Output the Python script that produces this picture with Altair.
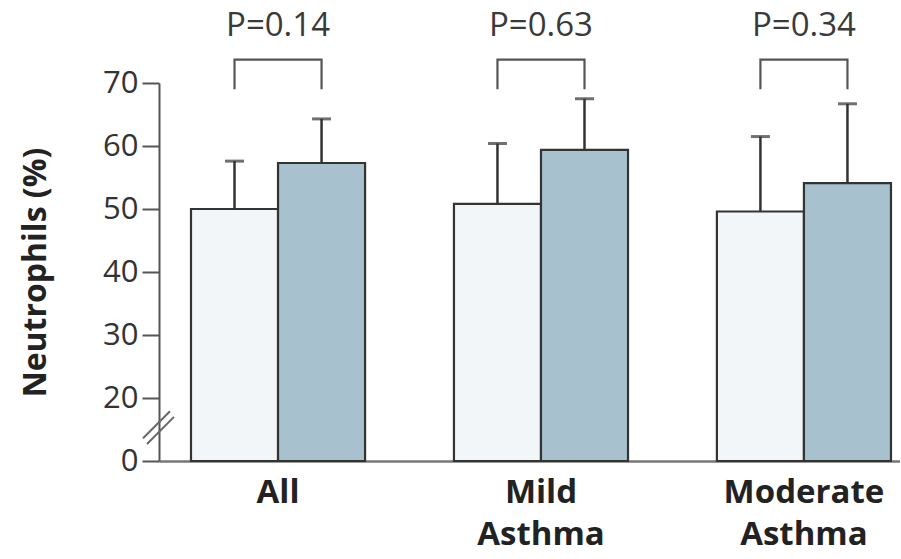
import altair as alt
import pandas as pd

# Group means and standard deviations of sputum neutrophils (%)
categories = ["All", "Mild Asthma", "Moderate Asthma"]
series = ["Group 1", "Group 2"]
mean_group1 = [50.0, 50.8, 49.6]
mean_group2 = [57.3, 59.4, 54.1]
sd_group1 = [7.6, 9.6, 11.9]
sd_group2 = [7.0, 8.1, 12.6]
p_labels = ["P=0.14", "P=0.63", "P=0.34"]
y_tick_values = [0, 20, 30, 40, 50, 60, 70]

# Levels (in data units) of the comparison brackets and P-value labels
BRACKET_TOP = 73.7
BRACKET_FOOT = 69.0
P_LABEL_LEVEL = 79.0

# The y axis is broken between 0 and 20: 0-20 is squeezed into one tick step,
# everything above 20 is drawn shifted down by 10.
def to_axis(expr):
    return f"({expr}) >= 20 ? ({expr}) - 10 : ({expr}) / 2"

FONT = "Open Sans"
WHITE = "#f2f6f8"
BLUE = "#a8c1cf"
INK = "#333333"

rows = []
for i, cat in enumerate(categories):
    rows.append({"category": cat, "series": series[0], "mean": mean_group1[i], "sd": sd_group1[i]})
    rows.append({"category": cat, "series": series[1], "mean": mean_group2[i], "sd": sd_group2[i]})
bars_df = pd.DataFrame(rows)

bracket_rows = []
for cat in categories:
    bracket_rows += [
        {"category": cat, "series": series[0], "level": BRACKET_FOOT, "step": 0},
        {"category": cat, "series": series[0], "level": BRACKET_TOP, "step": 1},
        {"category": cat, "series": series[1], "level": BRACKET_TOP, "step": 2},
        {"category": cat, "series": series[1], "level": BRACKET_FOOT, "step": 3},
    ]
bracket_df = pd.DataFrame(bracket_rows)

p_df = pd.DataFrame({"category": categories, "label": p_labels, "level": [P_LABEL_LEVEL] * 3})

axis_ticks = [v - 10 if v >= 20 else v / 2 for v in y_tick_values]

x_enc = alt.X(
    "category:N",
    sort=categories,
    scale=alt.Scale(paddingInner=0.338, paddingOuter=0.078, align=0.78),
    axis=alt.Axis(
        title=None,
        ticks=False,
        labelAngle=0,
        labelExpr="split(datum.label, ' ')",
        labelFont=FONT,
        labelFontSize=33,
        labelFontWeight="bold",
        labelColor="#222222",
        labelLineHeight=42,
        labelPadding=15,
        domainColor="#777777",
        domainWidth=2.5,
    ),
)
xoff_enc = alt.XOffset("series:N", sort=series, scale=alt.Scale(paddingInner=0, paddingOuter=0))
y_scale = alt.Scale(domain=[0, 60], nice=False, zero=True)
y_axis = alt.Axis(
    title="Neutrophils (%)",
    values=axis_ticks,
    labelExpr="datum.value >= 10 ? datum.value + 10 : datum.value * 2",
    grid=False,
    tickSize=17,
    tickWidth=2,
    tickColor="#555555",
    domainColor="#555555",
    domainWidth=2,
    labelFont=FONT,
    labelFontSize=31,
    labelColor=INK,
    labelPadding=4,
    titleFont=FONT,
    titleFontSize=32,
    titleFontWeight="bold",
    titleColor="#222222",
    titlePadding=50,
)

base = alt.Chart(bars_df).transform_calculate(
    top=to_axis("datum.mean"),
    cap=to_axis("datum.mean + datum.sd"),
)

bars = base.mark_bar(stroke=INK, strokeWidth=2.2).encode(
    x=x_enc,
    xOffset=xoff_enc,
    y=alt.Y("top:Q", scale=y_scale, axis=y_axis),
    color=alt.Color("series:N", scale=alt.Scale(domain=series, range=[WHITE, BLUE]), legend=None),
)

whiskers = base.mark_rule(color=INK, strokeWidth=2.5).encode(
    x=alt.X("category:N", sort=categories),
    xOffset=alt.XOffset("series:N", sort=series),
    y="top:Q",
    y2="cap:Q",
)

caps = base.mark_tick(color=INK, thickness=3, size=19).encode(
    x=alt.X("category:N", sort=categories),
    xOffset=alt.XOffset("series:N", sort=series),
    y="cap:Q",
)

brackets = alt.Chart(bracket_df).transform_calculate(
    pos=to_axis("datum.level")
).mark_line(color="#555555", strokeWidth=2.2).encode(
    x=alt.X("category:N", sort=categories),
    xOffset=alt.XOffset("series:N", sort=series),
    y="pos:Q",
    detail="category:N",
    order="step:Q",
)

p_text = alt.Chart(p_df).transform_calculate(
    pos=to_axis("datum.level")
).mark_text(font=FONT, fontSize=33, color="#3a3a3a").encode(
    x=alt.X("category:N", sort=categories),
    y="pos:Q",
    text="label:N",
)

# "//" break symbol across the y axis between 0 and 20
axis_break = alt.Chart(pd.DataFrame({"k": [0]})).mark_rule(color="#666666", strokeWidth=2)
break_a = axis_break.encode(x=alt.value(-16), x2=alt.value(11), y=alt.datum(3.6), y2=alt.datum(7.9))
break_b = axis_break.encode(x=alt.value(-12), x2=alt.value(15), y=alt.datum(2.7), y2=alt.datum(7.0))

chart = alt.layer(bars, whiskers, caps, brackets, p_text, break_a, break_b).properties(
    width=741,
    height=378,
    autosize=alt.AutoSizeParams(type="none"),
    padding={"left": 159, "top": 83, "right": 0, "bottom": 97},
).configure_view(stroke=None)

chart.save("out.html", embed_options={"renderer": "svg", "actions": False})
